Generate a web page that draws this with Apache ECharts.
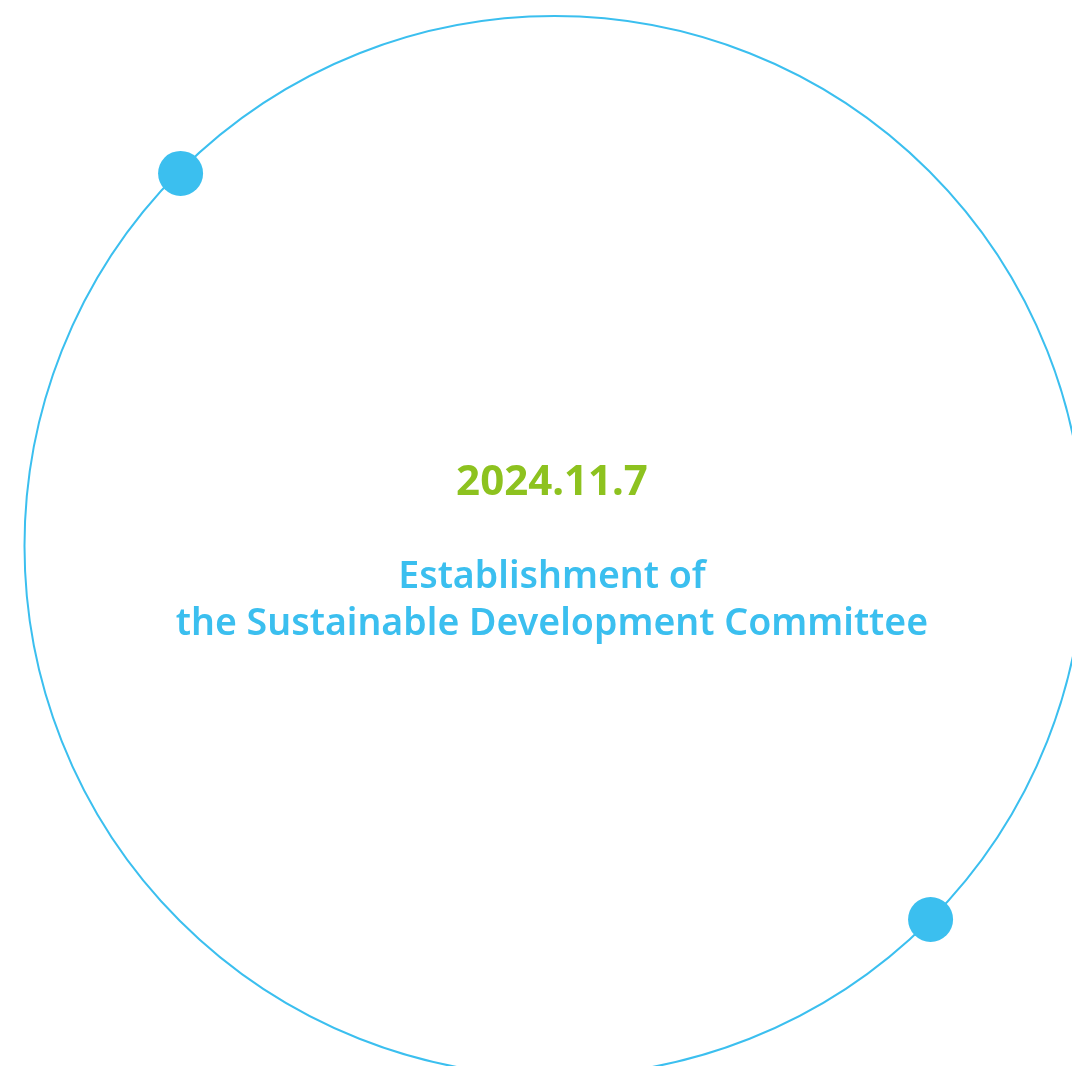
<!DOCTYPE html>
<html>
<head>
<meta charset="utf-8">
<style>html,body{margin:0;padding:0;background:#fff;}#main{width:1072px;height:1066px;}</style>
<script src="https://cdn.jsdelivr.net/npm/echarts@6/dist/echarts.min.js"></script>
</head>
<body>
<div id="main"></div>
<script>
const dateLabel = '2024.11.7';
const titleLines = ['Establishment of', 'the Sustainable Development Committee'];
const markerAngles = [135.1, 315.2];
const markerRadius = [0.996, 1];

const chart = echarts.init(document.getElementById('main'));
chart.setOption({
  backgroundColor: '#ffffff',
  animation: false,
  polar: { center: [554.5, 546], radius: 530 },
  angleAxis: {
    type: 'value', min: 0, max: 360, startAngle: 0, clockwise: false,
    axisLine: { show: true, lineStyle: { color: '#3bbfef', width: 2 } },
    axisTick: { show: false }, axisLabel: { show: false }, splitLine: { show: false }
  },
  radiusAxis: {
    type: 'value', min: 0, max: 1,
    axisLine: { show: false }, axisTick: { show: false }, axisLabel: { show: false }, splitLine: { show: false }
  },
  series: [{
    type: 'scatter', coordinateSystem: 'polar',
    symbol: 'circle', symbolSize: 45,
    itemStyle: { color: '#3bbfef', opacity: 1 },
    data: markerAngles.map((a, i) => [markerRadius[i], a])
  }],
  graphic: [
    { type: 'text', x: 552, y: 483, style: { text: dateLabel, fill: '#8dc21f', font: 'bold 42px "Noto Sans"', textAlign: 'center', textVerticalAlign: 'middle' } },
    { type: 'text', x: 552, y: 577, style: { text: titleLines[0], fill: '#3bbfef', font: '600 37.5px "Noto Sans"', textAlign: 'center', textVerticalAlign: 'middle' } },
    { type: 'text', x: 552, y: 624, style: { text: titleLines[1], fill: '#3bbfef', font: '600 37.5px "Noto Sans"', textAlign: 'center', textVerticalAlign: 'middle' } }
  ]
});
</script>
</body>
</html>
